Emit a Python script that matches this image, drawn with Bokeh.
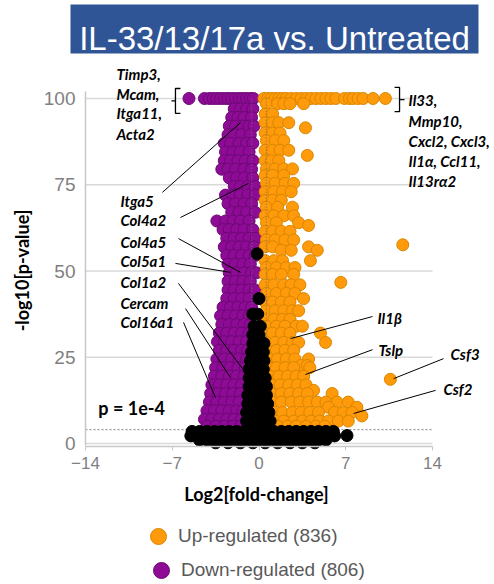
import math

from bokeh.plotting import figure
from bokeh.models import Range1d, Label, Legend, LegendItem, FixedTicker
from bokeh.embed import file_html
from bokeh.resources import INLINE

# ---------------------------------------------------------------- data
TITLE = "IL-33/13/17a vs. Untreated"
X_LABEL = "Log2[fold-change]"
Y_LABEL = "-log10[p-value]"
X_TICKS = [-14, -7, 0, 7, 14]
Y_TICKS = [0, 25, 50, 75, 100]
P_CUTOFF = 4.0        # -log10(1e-4)
FC_CUTOFF = 0.585     # log2(1.5)
P_NOTE = "p = 1e-4"
UP_LABEL = "Up-regulated (836)"
DOWN_LABEL = "Down-regulated (806)"

# down-regulated genes (log2 fold-change, -log10 p); p-values are capped at 100
DOWN = [
    (-5.65, 100), (-4.4, 100), (-4.0, 100), (-3.7, 100), (-3.4, 100), (-3.1, 100), (-2.8, 100),
    (-2.5, 100), (-2.2, 100), (-1.9, 100), (-1.6, 100), (-1.3, 100), (-1.0, 100), (-0.7, 100), (-0.45, 100),
    (-2.0, 97), (-1.5, 97), (-1.0, 97), (-0.5, 97),
    (-2.2, 94.5), (-1.7, 94.5), (-1.2, 94.5), (-0.6, 94.5),
    (-2.4, 92), (-1.9, 92), (-1.3, 92), (-0.8, 92), (-0.4, 92),
    (-2.5, 89.5), (-2.0, 89.5), (-1.4, 89.5), (-0.7, 89.5),
    (-2.8, 87), (-2.3, 87), (-1.6, 87), (-1.0, 87), (-0.5, 87),
    (-2.7, 84.5), (-2.1, 84.5), (-1.5, 84.5), (-0.8, 84.5),
    (-2.8, 82), (-2.3, 82), (-1.7, 82), (-1.1, 82), (-0.5, 82),
    (-3.0, 79.5), (-2.5, 79.5), (-1.9, 79.5), (-1.2, 79.5), (-0.6, 79.5),
    (-2.4, 77), (-1.8, 77), (-1.2, 77), (-0.5, 77),
    (-2.0, 74.5), (-1.5, 74.5), (-0.9, 74.5), (-0.3, 74.5),
    (-2.7, 72), (-2.1, 72), (-1.5, 72), (-0.9, 72), (-0.3, 72),
    (-2.5, 69.5), (-1.9, 69.5), (-1.2, 69.5), (-0.6, 69.5),
    (-2.2, 67), (-1.6, 67), (-1.0, 67), (-0.3, 67),
    (-3.4, 64.5), (-2.7, 64.5), (-2.1, 64.5), (-1.5, 64.5), (-0.8, 64.5),
    (-2.9, 62), (-2.4, 62), (-1.8, 62), (-1.2, 62), (-0.5, 62),
    (-2.6, 59.5), (-2.0, 59.5), (-1.4, 59.5), (-0.8, 59.5), (-0.2, 59.5),
    (-2.8, 57), (-2.2, 57), (-1.6, 57), (-1.0, 57), (-0.4, 57),
    (-2.6, 54.5), (-2.0, 54.5), (-1.4, 54.5), (-0.8, 54.5), (-0.3, 54.5),
    (-2.5, 52), (-1.9, 52), (-1.3, 52), (-0.7, 52),
    (-2.4, 49.5), (-1.8, 49.5), (-1.2, 49.5), (-0.6, 49.5), (-0.2, 49.5),
    (-2.5, 47), (-1.9, 47), (-1.3, 47), (-0.7, 47),
    (-2.5, 44.5), (-2.0, 44.5), (-1.4, 44.5), (-0.8, 44.5), (-0.3, 44.5),
    (-2.6, 42), (-2.0, 42), (-1.4, 42), (-0.8, 42),
    (-2.9, 39.5), (-2.3, 39.5), (-1.7, 39.5), (-1.1, 39.5), (-0.6, 39.5),
    (-3.1, 37), (-2.5, 37), (-1.9, 37), (-1.3, 37), (-0.8, 37),
    (-3.0, 34.5), (-2.4, 34.5), (-1.8, 34.5), (-1.2, 34.5), (-0.7, 34.5),
    (-3.2, 32), (-2.6, 32), (-2.0, 32), (-1.4, 32), (-0.8, 32),
    (-3.35, 29.5), (-2.8, 29.5), (-2.2, 29.5), (-1.6, 29.5), (-1.0, 29.5),
    (-3.2, 27), (-2.6, 27), (-2.0, 27), (-1.4, 27), (-0.9, 27),
    (-3.4, 24.5), (-2.8, 24.5), (-2.2, 24.5), (-1.6, 24.5), (-1.0, 24.5),
    (-3.5, 22), (-2.9, 22), (-2.3, 22), (-1.7, 22), (-1.1, 22),
    (-3.6, 19.5), (-3.0, 19.5), (-2.4, 19.5), (-1.8, 19.5), (-1.2, 19.5),
    (-3.8, 17), (-3.2, 17), (-2.6, 17), (-2.0, 17), (-1.4, 17),
    (-3.9, 14.5), (-3.3, 14.5), (-2.7, 14.5), (-2.1, 14.5), (-1.5, 14.5),
    (-4.0, 12), (-3.4, 12), (-2.8, 12), (-2.2, 12), (-1.6, 12),
    (-4.2, 9.5), (-3.6, 9.5), (-3.0, 9.5), (-2.4, 9.5), (-1.8, 9.5), (-1.3, 9.5),
    (-4.4, 7), (-3.8, 7), (-3.2, 7), (-2.6, 7), (-2.0, 7), (-1.4, 7),
    (-4.2, 5), (-3.5, 5), (-2.8, 5), (-2.1, 5), (-1.5, 5),
]

# up-regulated genes
UP = [
    (0.4, 100), (0.7, 100), (1.0, 100), (1.3, 100), (1.6, 100), (1.9, 100), (2.2, 100), (2.6, 100),
    (3.0, 100), (3.4, 100), (3.8, 100), (4.2, 100), (4.6, 100), (5.0, 100), (5.4, 100), (5.8, 100),
    (6.2, 100), (6.9, 100), (7.3, 100), (7.6, 100), (8.0, 100), (8.4, 100), (9.2, 100), (10.2, 100),
    (0.6, 98.5), (1.5, 98.5), (2.0, 98.5), (2.5, 98.5), (3.6, 98.5),
    (0.5, 95.5), (1.1, 95.5),
    (0.5, 93), (1.1, 93), (1.6, 93), (2.4, 93), (3.75, 91.5),
    (0.5, 90), (1.1, 90), (1.7, 90),
    (0.6, 87.8), (1.3, 87.8), (2.0, 87.8),
    (0.5, 85), (1.1, 85), (1.7, 85), (2.4, 85), (3.9, 83.5),
    (0.5, 82), (1.0, 82), (1.6, 82),
    (0.6, 79.6), (1.3, 79.6), (2.0, 79.6), (2.7, 79.6),
    (0.5, 77.7), (1.1, 77.7), (2.0, 77.7),
    (0.6, 75.4), (1.3, 75.4), (2.1, 75.4), (2.8, 75.4),
    (0.5, 73), (1.2, 73), (1.9, 73), (2.6, 73),
    (0.5, 70.5), (1.1, 70.5), (1.8, 70.5),
    (0.6, 68.5), (1.5, 68.5), (2.7, 68.5),
    (0.5, 66), (1.2, 66), (2.0, 66), (2.8, 66),
    (0.6, 64), (1.4, 64), (3.2, 64), (4.0, 63.2),
    (0.5, 61.5), (1.1, 61.5), (1.8, 61.5), (2.5, 61.5),
    (0.6, 59), (1.3, 59), (2.1, 59), (2.8, 59),
    (11.6, 57.6), (0.5, 57), (1.1, 57), (4.0, 57),
    (1.8, 56), (2.6, 56), (4.7, 56),
    (0.5, 53), (1.2, 53), (1.9, 53), (4.15, 53),
    (0.6, 51), (1.4, 51), (2.2, 51), (2.9, 51),
    (0.5, 49), (1.1, 49), (1.8, 49), (2.8, 49),
    (6.6, 46.7), (0.5, 46), (1.2, 46), (2.0, 46), (2.6, 46), (3.3, 46),
    (0.6, 43.5), (1.4, 43.5), (2.2, 43.5), (2.9, 43.5), (3.6, 42),
    (0.5, 41), (1.1, 41), (1.8, 41), (2.5, 41),
    (0.6, 38.5), (1.3, 38.5), (2.0, 38.5), (2.7, 38.5), (3.2, 38.5),
    (0.5, 36), (1.2, 36), (1.9, 36), (2.5, 36),
    (0.6, 34), (1.4, 34), (2.1, 34), (3.0, 34), (3.5, 34),
    (0.5, 32), (1.1, 32), (1.8, 32), (2.5, 32), (4.96, 32),
    (0.6, 29.3), (1.3, 29.3), (2.0, 29.3), (2.7, 29.3), (3.2, 29.3), (5.37, 29.3),
    (0.7, 27), (1.4, 27), (2.1, 27), (2.8, 27),
    (0.8, 24.5), (1.5, 24.5), (2.2, 24.5), (2.9, 24.5), (4.0, 24.5),
    (3.4, 22.6), (3.9, 22.6),
    (0.8, 22), (1.4, 22), (2.1, 22), (2.8, 22), (4.1, 22),
    (0.9, 19.5), (1.6, 19.5), (2.3, 19.5), (3.0, 19.5), (3.6, 19.5),
    (10.6, 18.6),
    (1.0, 17), (1.7, 17), (2.4, 17), (3.1, 17), (3.8, 17), (4.4, 15.4),
    (1.0, 14.5), (1.8, 14.5), (2.5, 14.5), (3.2, 14.5), (3.9, 14.5), (5.9, 14.5),
    (1.1, 12), (1.8, 12), (2.6, 12), (3.3, 12), (4.0, 12), (4.7, 12), (5.4, 12), (6.3, 12), (7.2, 12),
    (5.6, 10.5), (7.9, 10.5),
    (1.2, 9), (1.9, 9), (2.7, 9), (3.4, 9), (4.1, 9), (4.8, 9), (6.1, 9), (6.8, 9), (7.5, 9),
    (8.3, 8),
    (1.3, 6.5), (2.0, 6.5), (2.8, 6.5), (3.5, 6.5), (4.2, 6.5), (4.9, 6.5), (5.6, 6.5), (6.4, 6.5), (7.2, 6.5),
    (1.5, 5), (2.3, 5), (3.0, 5), (3.8, 5), (4.6, 5), (5.3, 5),
]

# genes that are not significant
NS = [
    (-0.15, 55), (0.0, 42), (-0.5, 37.5), (-0.1, 37.5),
    (-0.4, 34), (0.1, 34), (-0.5, 31.5), (0.0, 31.5),
    (-0.5, 29), (0.0, 29), (0.4, 29),
    (-0.6, 26.5), (-0.1, 26.5), (0.35, 26.5),
    (-0.7, 24), (-0.2, 24), (0.4, 24),
    (-0.8, 21.5), (-0.3, 21.5), (0.35, 21.5),
    (-0.8, 19), (-0.3, 19), (0.2, 19), (0.5, 19),
    (-0.8, 16.5), (-0.3, 16.5), (0.2, 16.5), (0.6, 16.5),
    (-0.9, 14), (-0.4, 14), (0.1, 14), (0.6, 14),
    (-0.9, 11.5), (-0.4, 11.5), (0.1, 11.5), (0.7, 11.5),
    (-1.0, 9), (-0.5, 9), (0.0, 9), (0.5, 9), (0.8, 9),
    (-1.0, 6.5), (-0.5, 6.5), (0.0, 6.5), (0.5, 6.5), (0.9, 6.5),
    (-5.4, 3.5), (-4.8, 3.5), (-4.2, 3.5), (-3.6, 3.5), (-3.0, 3.5), (-2.4, 3.5), (-1.8, 3.5),
    (-1.2, 3.5), (-0.6, 3.5), (0.0, 3.5), (0.6, 3.5), (1.2, 3.5), (1.8, 3.5), (2.4, 3.5),
    (3.0, 3.5), (3.6, 3.5), (4.2, 3.5), (4.8, 3.5), (5.4, 3.5), (6.0, 3.5),
    (-5.5, 2.2), (-4.9, 2.2), (-4.3, 2.2), (-3.7, 2.2), (-3.1, 2.2), (-2.5, 2.2), (-1.9, 2.2),
    (-1.3, 2.2), (-0.7, 2.2), (0.0, 2.2), (0.7, 2.2), (1.3, 2.2), (1.9, 2.2), (2.5, 2.2),
    (3.1, 2.2), (3.7, 2.2), (4.3, 2.2), (4.9, 2.2), (5.5, 2.2), (6.1, 2.2), (7.1, 2.3),
    (-4.8, 1.0), (-4.2, 1.0), (-3.6, 1.0), (-3.0, 1.0), (-2.4, 1.0), (-1.8, 1.0), (-1.2, 1.0),
    (-0.6, 1.0), (0.0, 1.0), (0.6, 1.0), (1.2, 1.0), (1.8, 1.0), (2.4, 1.0), (3.0, 1.0),
    (3.6, 1.0), (4.2, 1.0), (4.8, 1.0), (5.4, 1.0),
    (-3.5, 0.2), (-2.5, 0.2), (-1.5, 0.2), (-0.5, 0.2), (0.5, 0.2), (1.5, 0.2),
    (2.5, 0.2), (3.5, 0.2), (4.5, 0.2),
]

GENES = [
    "Timp3,", "Mcam,", "Itga11,", "Acta2",
    "Il33,", "Mmp10,", "Cxcl2, Cxcl3,", "Il1\u03b1, Ccl11,", "Il13r\u03b12",
    "Itga5", "Col4a2", "Col4a5", "Col5a1", "Col1a2", "Cercam", "Col16a1",
    "Il1\u03b2", "Tslp", "Csf3", "Csf2",
]

# ---------------------------------------------------------------- layout
W, H = 494, 584
X0_PX, X_SCALE = 258.5, 12.394     # pixel column of x = 0, pixels per unit
Y0_PX, Y_SCALE = 443.0, 3.45       # pixel row of y = 0, pixels per unit


def px_x(px):
    return (px - X0_PX) / X_SCALE


def px_y(py):
    return (Y0_PX - py) / Y_SCALE


GENE_POS = [
    (-11.5, 107.2), (-11.5, 101.4), (-11.5, 95.7), (-11.5, 89.6),
    (12.07, 99.7), (12.07, 93.6), (12.07, 87.8), (12.07, 82.0), (12.07, 76.2),
    (-11.18, 70.4), (-11.18, 64.9), (-11.18, 58.3), (-11.18, 52.8),
    (-11.18, 46.7), (-11.18, 40.6), (-11.18, 35.1),
    (9.56, 36.5), (9.64, 27.2), (15.46, 25.8), (14.89, 15.7),
]
LEADERS = [  # x0, y0, x1, y1
    (-7.79, 72.8, -1.49, 93.0),
    (-6.34, 65.5, -0.85, 75.4),
    (-6.50, 59.4, -1.49, 49.6),
    (-6.74, 52.2, -2.30, 49.6),
    (-6.50, 46.4, -1.33, 21.7),
    (-5.93, 39.1, -2.30, 19.1),
    (-6.09, 35.1, -3.51, 13.3),
    (9.16, 36.8, 2.54, 30.4),
    (9.16, 27.2, 3.75, 20.0),
    (14.89, 24.6, 10.86, 18.8),
    (14.25, 15.4, 7.63, 8.7),
]
BRACKETS_X = [[-6.34, -6.74, -6.74, -6.34], [-6.74, -7.06],
              [10.94, 11.34, 11.34, 10.94], [11.34, 11.74]]
BRACKETS_Y = [[102.9, 102.9, 95.7, 95.7], [99.3, 99.3],
              [103.2, 103.2, 96.2, 96.2], [99.7, 99.7]]

PURPLE, PURPLE_EDGE = "#8E0B96", "#6C0874"
ORANGE, ORANGE_EDGE = "#FF9A0A", "#D98600"
BANNER = "#2F5597"
GRID = "#D9D9D9"
AXIS_GREY = "#C8C8C8"
TICK_GREY = "#7F7F7F"
LABEL_FONT = "Lato"
SANS = "Liberation Sans"

# ---------------------------------------------------------------- figure
p = figure(width=W, height=H, x_range=Range1d(px_x(0), px_x(W)), y_range=Range1d(px_y(H), px_y(0)),
           output_backend="svg", toolbar_location=None, title=None, min_border=0)
p.outline_line_color = None
p.grid.visible = False

# title banner
p.quad(left=[px_x(70)], right=[px_x(478)], top=[px_y(4)], bottom=[px_y(53)],
       fill_color=BANNER, line_color=None)
p.add_layout(Label(x=px_x(274), y=px_y(38), text=TITLE, text_font=SANS, text_font_size="33px",
                   text_color="white", text_align="center", text_baseline="alphabetic"))

# horizontal guide lines at the y ticks, limited to the axis span
p.segment(x0=[X_TICKS[0]] * len(Y_TICKS), x1=[X_TICKS[-1]] * len(Y_TICKS),
          y0=Y_TICKS, y1=Y_TICKS, line_color=GRID, line_width=1.5)


def xy(points):
    return [pt[0] for pt in points], [pt[1] for pt in points]


dx, dy = xy(DOWN)
ux, uy = xy(UP)
nx, ny = xy(NS)

r_down = p.scatter(dx, dy, size=12, fill_color=PURPLE, line_color=PURPLE_EDGE, line_width=1)
r_up = p.scatter(ux, uy, size=12, fill_color=ORANGE, line_color=ORANGE_EDGE, line_width=1)

# significance thresholds
p.segment(x0=[X_TICKS[0]], x1=[X_TICKS[-1]], y0=[P_CUTOFF], y1=[P_CUTOFF],
          line_color="#808080", line_width=1, line_dash="2 2")
p.segment(x0=[-FC_CUTOFF, FC_CUTOFF], x1=[-FC_CUTOFF, FC_CUTOFF],
          y0=[P_CUTOFF, P_CUTOFF], y1=[Y_TICKS[-1], Y_TICKS[-1]],
          line_color="#707070", line_width=1, line_dash="1 2")

p.scatter(nx, ny, size=12, fill_color="black", line_color="black", line_width=1)

# leader lines and brackets for the named genes
p.segment(x0=[s[0] for s in LEADERS], y0=[s[1] for s in LEADERS],
          x1=[s[2] for s in LEADERS], y1=[s[3] for s in LEADERS],
          line_color="black", line_width=1)
p.multi_line(xs=BRACKETS_X, ys=BRACKETS_Y, line_color="black", line_width=1.3)

for name, (gx, gy) in zip(GENES, GENE_POS):
    p.add_layout(Label(x=gx, y=gy, text=name, text_font=LABEL_FONT, text_font_style="bold italic",
                       text_font_size="15px", text_color="black", text_baseline="middle",
                       text_align="left"))

p.add_layout(Label(x=-12.96, y=10.4, text=P_NOTE, text_font=LABEL_FONT, text_font_style="bold",
                   text_font_size="18px", text_color="black", text_baseline="middle"))

# axes, pinned to the data area so that they take no border space
p.xaxis.fixed_location = px_y(446)
p.xaxis.ticker = FixedTicker(ticks=X_TICKS)
p.xaxis.bounds = (X_TICKS[0], X_TICKS[-1])
p.xaxis.axis_line_color = AXIS_GREY
p.xaxis.axis_line_width = 1.5
p.xaxis.major_tick_in = 0
p.xaxis.major_tick_out = 4
p.xaxis.major_tick_line_color = AXIS_GREY
p.xaxis.major_label_standoff = 6
p.xaxis.major_label_text_font = SANS
p.xaxis.major_label_text_font_size = "17px"
p.xaxis.major_label_text_color = TICK_GREY

p.yaxis.fixed_location = X_TICKS[0]
p.yaxis.ticker = FixedTicker(ticks=Y_TICKS)
p.yaxis.bounds = (-0.5, 102)
p.yaxis.axis_line_color = AXIS_GREY
p.yaxis.axis_line_width = 1.5
p.yaxis.major_tick_in = 0
p.yaxis.major_tick_out = 0
p.yaxis.major_label_standoff = 10
p.yaxis.major_label_text_font = SANS
p.yaxis.major_label_text_font_size = "19px"
p.yaxis.major_label_text_color = TICK_GREY

# axis titles
p.add_layout(Label(x=px_x(256), y=px_y(493), text=X_LABEL, text_font=LABEL_FONT,
                   text_font_style="bold", text_font_size="18px", text_color="black",
                   text_align="center", text_baseline="middle"))
p.add_layout(Label(x=px_x(21), y=px_y(270), text=Y_LABEL, text_font=LABEL_FONT,
                   text_font_style="bold", text_font_size="18px", text_color="black",
                   text_align="center", text_baseline="middle", angle=math.pi / 2))

# one legend per series so each swatch sits on its own row position
legend_style = dict(orientation="vertical", glyph_width=40, glyph_height=40, label_height=40,
                    spacing=0, padding=0, margin=0, label_standoff=0,
                    border_line_color=None, background_fill_alpha=0,
                    label_text_font=SANS, label_text_font_size="19px", label_text_color="#595959")
p.add_layout(Legend(items=[LegendItem(label=UP_LABEL, renderers=[r_up])],
                    location=(138, H - 556), **legend_style))
p.add_layout(Legend(items=[LegendItem(label=DOWN_LABEL, renderers=[r_down])],
                    location=(141, H - 590), **legend_style))

open("out.html", "w").write(file_html(p, INLINE))
